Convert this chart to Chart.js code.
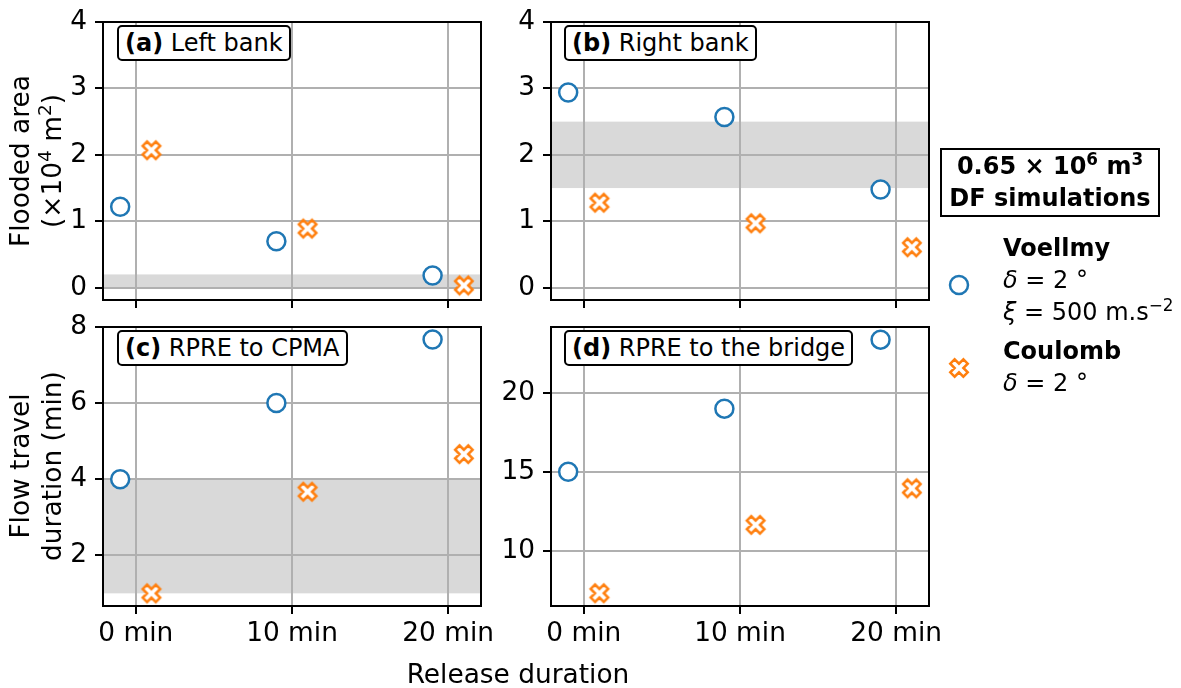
<!DOCTYPE html>
<html>
<head>
<meta charset="utf-8">
<script src="https://cdn.jsdelivr.net/npm/chart.js@4.4.1/dist/chart.umd.min.js"></script>
<style>
  body { margin: 0; background: #fff; font-family: "DejaVu Sans", sans-serif; color: #000; }
  #wrap { position: relative; width: 1181px; height: 688px; overflow: hidden; }
  canvas.panel { position: absolute; }
  .tag { position: absolute; border: 2px solid #000; border-radius: 5px; background: #fff;
         font-size: 24px; line-height: 28px; padding: 2px 6px; white-space: nowrap; }
  .ytitle { position: absolute; width: 340px; height: 64px; font-size: 26.4px; line-height: 32px;
            text-align: center; transform: rotate(-90deg); white-space: nowrap; }
  .xtitle { position: absolute; font-size: 26.4px; line-height: 30px; white-space: nowrap; transform: translateX(-50%); }
  .box { position: absolute; left: 940px; top: 148px; width: 216px; height: 65px; border: 2px solid #000;
         font-size: 24px; font-weight: bold; line-height: 32px; text-align: center; white-space: nowrap; }
  .leg { position: absolute; left: 1003px; font-size: 24px; line-height: 32px; white-space: nowrap; }
  sup { font-size: 0.7em; line-height: 0; vertical-align: 0.55em; }
  canvas.mk { position: absolute; }
</style>
</head>
<body>
<div id="wrap">
  <canvas id="pa" class="panel"></canvas>
  <canvas id="pb" class="panel"></canvas>
  <canvas id="pc" class="panel"></canvas>
  <canvas id="pd" class="panel"></canvas>

  <div class="tag" style="left:117px;top:25px;"><b>(a)</b> Left bank</div>
  <div class="tag" style="left:564px;top:25px;"><b>(b)</b> Right bank</div>
  <div class="tag" style="left:117px;top:330px;"><b>(c)</b> RPRE to CPMA</div>
  <div class="tag" style="left:564px;top:330px;"><b>(d)</b> RPRE to the bridge</div>

  <div class="ytitle" style="left:-134px;top:129px;">Flooded area<br>(×10<sup>4</sup> m<sup>2</sup>)</div>
  <div class="ytitle" style="left:-134px;top:434px;">Flow travel<br>duration (min)</div>
  <div class="xtitle" style="left:518px;top:659px;">Release duration</div>

  <div class="box">0.65 × 10<sup>6</sup> m<sup>3</sup><br>DF simulations</div>
  <canvas id="mkV" class="mk" width="26" height="26" style="left:946px;top:272px;"></canvas>
  <div class="leg" style="top:232px;"><b>Voellmy</b><br><i>δ</i> = 2 °<br><i>ξ</i> = 500 m.s<sup>−2</sup></div>
  <canvas id="mkC" class="mk" width="26" height="26" style="left:946px;top:355px;"></canvas>
  <div class="leg" style="top:335px;"><b>Coulomb</b><br><i>δ</i> = 2 °</div>
</div>

<script>
/* ---- DATA ---- */
const X_TICKS   = [0, 10, 20];
const X_VOELLMY = [-1, 9, 19];
const X_COULOMB = [1, 11, 21];

// (a) Left bank – flooded area (x10^4 m2)
const A_VOELLMY = [1.22, 0.70, 0.185];
const A_COULOMB = [2.07, 0.89, 0.035];
const A_BAND    = [0, 0.2];
// (b) Right bank
const B_VOELLMY = [2.94, 2.57, 1.48];
const B_COULOMB = [1.28, 0.97, 0.61];
const B_BAND    = [1.5, 2.5];
// (c) RPRE to CPMA – travel duration (min)
const C_VOELLMY = [4.0, 6.0, 7.67];
const C_COULOMB = [1.0, 3.67, 4.66];
const C_BAND    = [1, 4];
// (d) RPRE to the bridge
const D_VOELLMY = [15.0, 19.0, 23.37];
const D_COULOMB = [7.31, 11.64, 13.95];

const Y_TICKS_AREA = [0, 1, 2, 3, 4];
const Y_TICKS_C    = [2, 4, 6, 8];
const Y_TICKS_D    = [10, 15, 20];

/* ---- STYLE ---- */
const BLUE = '#1f77b4';
const ORANGE = '#ff7f0e';
const FONT = { family: 'DejaVu Sans', size: 26.4 };
const M = { l: 60, r: 30, t: 30, b: 60 };

/* ---- MARKERS ---- */
const X_SHAPE = [[-1,-3],[-1,-1],[-3,-1],[-3,1],[-1,1],[-1,3],[1,3],[1,1],[3,1],[3,-1],[1,-1],[1,-3]];

function drawX(g, cx, cy, s, color) {
  g.beginPath();
  X_SHAPE.forEach(([px, py], i) => {
    const x = cx + (px - py) / Math.SQRT2 / 6 * s;
    const y = cy + (px + py) / Math.SQRT2 / 6 * s;
    i ? g.lineTo(x, y) : g.moveTo(x, y);
  });
  g.closePath();
  g.fillStyle = '#fff';
  g.fill();
  g.lineWidth = 2.5;
  g.lineJoin = 'miter';
  g.strokeStyle = color;
  g.stroke();
}

function makeXMarker(color) {
  const c = document.createElement('canvas');
  c.width = c.height = 26;
  drawX(c.getContext('2d'), 13, 13, 18.5, color);
  return c;
}
const X_MARKER = makeXMarker(ORANGE);

/* ---- PLUGINS ---- */
const bandPlugin = {
  id: 'band',
  beforeDraw(chart, args, o) {
    if (!o.range) return;
    const { ctx, chartArea: a, scales: { y } } = chart;
    const top = y.getPixelForValue(o.range[1]);
    const bot = y.getPixelForValue(o.range[0]);
    ctx.save();
    ctx.fillStyle = '#d9d9d9';
    ctx.fillRect(a.left, top, a.right - a.left, bot - top);
    ctx.restore();
  }
};

const framePlugin = {
  id: 'frame',
  afterDatasetsDraw(chart) {
    const { ctx, chartArea: a } = chart;
    ctx.save();
    ctx.strokeStyle = '#000';
    ctx.lineWidth = 2;
    ctx.strokeRect(a.left, a.top, a.right - a.left, a.bottom - a.top);
    ctx.restore();
  }
};

/* ---- PANEL ---- */
function makePanel(id, box, cfg) {
  const cv = document.getElementById(id);
  cv.width = box.r - box.l + M.l + M.r;
  cv.height = box.b - box.t + M.t + M.b;
  cv.style.left = (box.l - M.l) + 'px';
  cv.style.top = (box.t - M.t) + 'px';

  const grid = { color: '#b0b0b0', lineWidth: 2, tickColor: '#000', tickWidth: 2, tickLength: 8 };

  return new Chart(cv, {
    type: 'scatter',
    data: {
      datasets: [
        {
          label: 'Voellmy',
          data: X_VOELLMY.map((x, i) => ({ x, y: cfg.voellmy[i] })),
          pointStyle: 'circle',
          pointRadius: 9,
          pointHoverRadius: 9,
          borderWidth: 2.5,
          borderColor: BLUE,
          backgroundColor: '#fff',
          clip: false
        },
        {
          label: 'Coulomb',
          data: X_COULOMB.map((x, i) => ({ x, y: cfg.coulomb[i] })),
          pointStyle: X_MARKER,
          pointRadius: 9,
          pointHoverRadius: 9,
          clip: false
        }
      ]
    },
    options: {
      responsive: false,
      devicePixelRatio: 1,
      animation: false,
      events: [],
      layout: { padding: { top: M.t, right: M.r, left: 0, bottom: 0 } },
      plugins: {
        legend: { display: false },
        tooltip: { enabled: false },
        band: { range: cfg.band }
      },
      scales: {
        x: {
          type: 'linear', min: -2.1, max: 22.1,
          afterBuildTicks: s => { s.ticks = X_TICKS.map(v => ({ value: v })); },
          afterFit: s => { s.height = M.b; },
          grid, border: { display: false },
          ticks: { color: '#000', font: FONT, padding: 4, maxRotation: 0,
                   callback: v => cfg.showX ? v + ' min' : '' }
        },
        y: {
          type: 'linear', min: cfg.ymin, max: cfg.ymax,
          afterBuildTicks: s => { s.ticks = cfg.yticks.map(v => ({ value: v })); },
          afterFit: s => { s.width = M.l; },
          grid, border: { display: false },
          ticks: { color: '#000', font: FONT, padding: 8 }
        }
      }
    },
    plugins: [bandPlugin, framePlugin]
  });
}

makePanel('pa', { l: 103, t: 22, r: 481, b: 300 },
  { voellmy: A_VOELLMY, coulomb: A_COULOMB, band: A_BAND, ymin: -0.185, ymax: 4, yticks: Y_TICKS_AREA, showX: false });
makePanel('pb', { l: 551, t: 22, r: 929, b: 300 },
  { voellmy: B_VOELLMY, coulomb: B_COULOMB, band: B_BAND, ymin: -0.185, ymax: 4, yticks: Y_TICKS_AREA, showX: false });
makePanel('pc', { l: 103, t: 327, r: 481, b: 606 },
  { voellmy: C_VOELLMY, coulomb: C_COULOMB, band: C_BAND, ymin: 0.667, ymax: 8.0, yticks: Y_TICKS_C, showX: true });
makePanel('pd', { l: 551, t: 327, r: 929, b: 606 },
  { voellmy: D_VOELLMY, coulomb: D_COULOMB, band: null, ymin: 6.5, ymax: 24.17, yticks: Y_TICKS_D, showX: true });

/* ---- LEGEND MARKERS ---- */
const gV = document.getElementById('mkV').getContext('2d');
gV.beginPath();
gV.arc(13, 13, 9, 0, Math.PI * 2);
gV.fillStyle = '#fff';
gV.fill();
gV.lineWidth = 2.5;
gV.strokeStyle = BLUE;
gV.stroke();
drawX(document.getElementById('mkC').getContext('2d'), 13, 13, 18.5, ORANGE);
</script>
</body>
</html>
